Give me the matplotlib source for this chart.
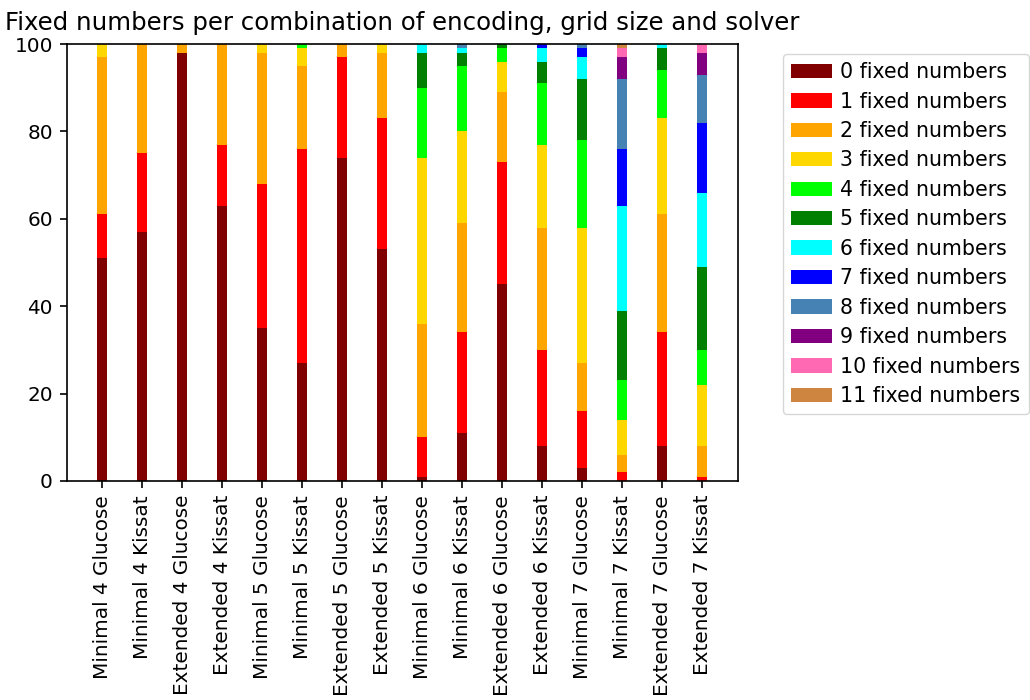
import matplotlib
matplotlib.use("Agg")
import matplotlib.pyplot as plt
import numpy as np

plt.rcParams['font.family'] = ['DejaVu Sans']
plt.rcParams['font.size'] = 14.4
plt.rcParams['axes.linewidth'] = 1.2
plt.rcParams['xtick.major.size'] = 5.1
plt.rcParams['ytick.major.size'] = 5.1
plt.rcParams['xtick.major.width'] = 1.2
plt.rcParams['ytick.major.width'] = 1.2
plt.rcParams['xtick.major.pad'] = 5
plt.rcParams['ytick.major.pad'] = 5

combinations = ["Minimal 4 Glucose", "Minimal 4 Kissat", "Extended 4 Glucose", "Extended 4 Kissat",
                "Minimal 5 Glucose", "Minimal 5 Kissat", "Extended 5 Glucose", "Extended 5 Kissat",
                "Minimal 6 Glucose", "Minimal 6 Kissat", "Extended 6 Glucose", "Extended 6 Kissat",
                "Minimal 7 Glucose", "Minimal 7 Kissat", "Extended 7 Glucose", "Extended 7 Kissat"]

fixed_0 = [51, 57, 98, 63, 35, 27, 74, 53, 1, 11, 45, 8, 3, 0, 8, 0]
fixed_1 = [10, 18, 0, 14, 33, 49, 23, 30, 9, 23, 28, 22, 13, 2, 26, 1]
fixed_2 = [36, 25, 2, 23, 30, 19, 3, 15, 26, 25, 16, 28, 11, 4, 27, 7]
fixed_3 = [3, 0, 0, 0, 2, 4, 0, 2, 38, 21, 7, 19, 31, 8, 22, 14]
fixed_4 = [0, 0, 0, 0, 0, 1, 0, 0, 16, 15, 3, 14, 20, 9, 11, 8]
fixed_5 = [0, 0, 0, 0, 0, 0, 0, 0, 8, 3, 1, 5, 14, 16, 5, 19]
fixed_6 = [0, 0, 0, 0, 0, 0, 0, 0, 2, 1, 0, 3, 5, 24, 1, 17]
fixed_7 = [0, 0, 0, 0, 0, 0, 0, 0, 0, 0, 0, 1, 2, 13, 0, 16]
fixed_8 = [0, 0, 0, 0, 0, 0, 0, 0, 0, 1, 0, 0, 1, 16, 0, 11]
fixed_9 = [0, 0, 0, 0, 0, 0, 0, 0, 0, 0, 0, 0, 0, 5, 0, 5]
fixed_10 = [0, 0, 0, 0, 0, 0, 0, 0, 0, 0, 0, 0, 0, 2, 0, 2]
fixed_11 = [0, 0, 0, 0, 0, 0, 0, 0, 0, 0, 0, 0, 0, 1, 0, 0]

series = [fixed_0, fixed_1, fixed_2, fixed_3, fixed_4, fixed_5,
          fixed_6, fixed_7, fixed_8, fixed_9, fixed_10, fixed_11]
series_labels = [f"{i} fixed numbers" for i in range(12)]
colors = ["#800000", "#ff0000", "#ffa500", "#ffd700", "#00ff00", "#008000",
          "#00ffff", "#0000ff", "#4682b4", "#800080", "#ff69b4", "#cd853f"]

fig = plt.figure(figsize=(10.3, 7.0), dpi=100)
ax = fig.add_axes([0.065, 0.313, 0.6515, 0.624])

x = np.arange(len(combinations))
bottom = np.zeros(len(combinations))
for vals, lab, col in zip(series, series_labels, colors):
    v = np.array(vals, dtype=float)
    ax.bar(x, v, width=0.25, bottom=bottom, color=col, label=lab)
    bottom += v

ax.set_ylim(0, 100)
ax.set_xticks(x)
ax.set_xticklabels(combinations, rotation=90)
ax.set_title("Fixed numbers per combination of encoding, grid size and solver",
             fontsize=17.6, pad=10)

fig.legend(loc='upper left', bbox_to_anchor=(0.760, 0.923), borderaxespad=0,
           fontsize=14.8, handletextpad=0.4, labelspacing=0.46, borderpad=0.4)

fig.savefig("out.png", dpi=100)
